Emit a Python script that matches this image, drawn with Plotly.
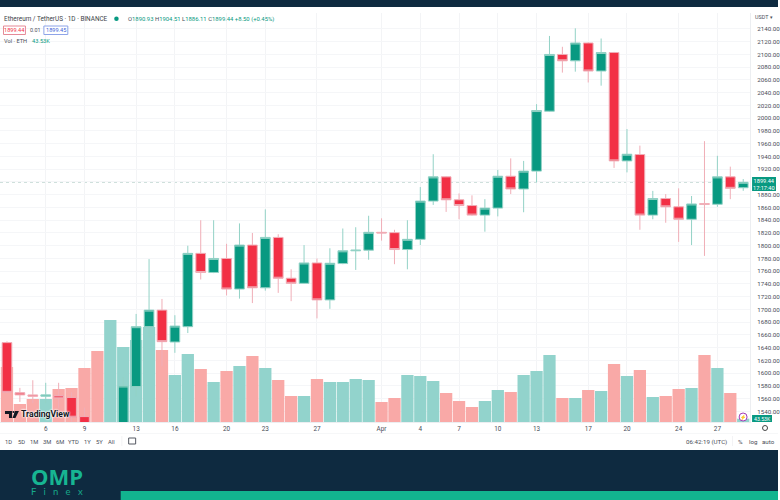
import pandas as pd
import plotly.graph_objects as go

W, H = 780, 500

dates = pd.date_range("2023-03-03", periods=58)

opens = [1648, 1569.5, 1566, 1564, 1565, 1562, 1532, 1490, 1470, 1500,
         1579, 1673, 1699, 1649, 1673, 1788, 1758, 1780, 1732, 1801,
         1734, 1813, 1749, 1741, 1773, 1715, 1772, 1792, 1793, 1821,
         1820.5, 1794, 1810, 1870, 1908, 1872, 1863, 1848, 1859, 1909,
         1889, 1917, 2011, 2100, 2090, 2118, 2074, 2103, 1933, 1943,
         1848, 1874, 1861, 1841.5, 1866, 1865, 1908, 1890.93]
highs = [1650, 1577, 1589, 1585, 1585, 1570, 1546, 1510, 1515, 1594,
         1693, 1779, 1716.5, 1691, 1800, 1840, 1840, 1803, 1835, 1820,
         1857, 1818, 1763, 1801, 1780, 1796, 1827, 1829, 1847, 1843,
         1825, 1840, 1892, 1943.5, 1909, 1882, 1879, 1873, 1919, 1937,
         1933, 2022, 2129, 2112, 2141, 2119, 2125, 2104, 1983, 1957,
         1886, 1881, 1890, 1878, 1964, 1941, 1924, 1904.51]
lows = [1569, 1555, 1553, 1553, 1545, 1524, 1480, 1450, 1460, 1490,
        1564, 1656, 1611, 1632, 1663, 1747, 1757, 1722, 1717, 1710,
        1729.5, 1726, 1713, 1740, 1686, 1701, 1771, 1762, 1778, 1808,
        1771, 1763, 1801, 1864, 1853, 1841.5, 1847, 1822, 1846, 1881,
        1852.5, 1899, 2010, 2071.5, 2073, 2056, 2051, 1922, 1915, 1825,
        1841.5, 1836, 1806, 1801, 1784, 1861, 1873, 1886.11]
closes = [1570, 1566, 1564, 1566, 1561, 1531, 1490, 1470, 1500, 1580,
          1673, 1699, 1649.5, 1674, 1788, 1758, 1780, 1732, 1801, 1734,
          1813, 1749, 1741, 1773, 1715, 1772.5, 1792, 1793, 1821, 1820,
          1794, 1810, 1870, 1908, 1872, 1863, 1848, 1859, 1909, 1889,
          1917, 2012, 2100, 2090, 2118, 2074, 2103, 1933, 1943.5, 1848,
          1874, 1861, 1841.5, 1865.5, 1865, 1908, 1890, 1899.44]

# volume in thousands of ETH
volumes = [715, 234, 299, 299, 429, 442, 702, 923, 1326, 975,
           1066, 1235, 936, 611, 884, 689, 520, 663, 728, 858,
           702, 546, 338, 338, 559, 520, 520, 559, 546, 260,
           312, 611, 598, 533, 377, 273, 195, 273, 416, 390,
           611, 663, 871, 312, 312, 416, 403, 754, 598, 676,
           325, 338, 429, 442, 871, 702, 377, 43.53]

price_ticks = list(range(1540, 2141, 20))
time_tick_dates = ["2023-03-06", "2023-03-09", "2023-03-13", "2023-03-16", "2023-03-20",
                   "2023-03-23", "2023-03-27", "2023-04-01", "2023-04-04", "2023-04-07",
                   "2023-04-10", "2023-04-13", "2023-04-17", "2023-04-20", "2023-04-24",
                   "2023-04-27"]
time_tick_text = ["6", "9", "13", "16", "20", "23", "27", "Apr", "4", "7", "10", "13", "17",
                  "20", "24", "27"]
range_buttons = [("1D", 9), ("5D", 22), ("1M", 34), ("3M", 47), ("6M", 60), ("YTD", 74),
                 ("1Y", 88), ("5Y", 100), ("All", 112)]

UP = "#089981"
DOWN = "#f23045"
UP_WICK = "#93d2c6"
DOWN_WICK = "#f0aeb7"
UP_VOL = "#92d3cc"
DOWN_VOL = "#f9a9a7"
NAVY = "#0e2a40"
TEXT = "#4a4e59"
FONT = "Roboto"

vol_colors = [UP_VOL if c >= o else DOWN_VOL for o, c in zip(opens, closes)]
# the 1900 label sits under the last price tag
price_tick_text = ["" if v == 1900 else f"{v:.2f}" for v in price_ticks]


def px(x):
    return x / W


def py(y):
    return 1 - y / H


def label(x, y, text, size=6.5, color=TEXT, anchor="left", family=FONT, shadow=None, **kw):
    font = dict(family=family, size=size, color=color)
    if shadow:
        font["shadow"] = shadow
    return dict(xref="paper", yref="paper", x=px(x), y=py(y), text=text, showarrow=False,
                xanchor=anchor, yanchor="middle", font=font, borderpad=0, **kw)


def rect(x0, y0, x1, y1, fill, line=None, kind="rect", width=1):
    return dict(type=kind, xref="paper", yref="paper", x0=px(x0), y0=py(y0), x1=px(x1), y1=py(y1),
                fillcolor=fill, line=dict(color=line or fill, width=width if line else 0), layer="above")


def poly(points, fill):
    path = "M" + " L".join(f"{px(x):.5f},{py(y):.5f}" for x, y in points) + " Z"
    return dict(type="path", xref="paper", yref="paper", path=path, fillcolor=fill, line=dict(width=0), layer="above")


fig = go.Figure()
fig.add_trace(go.Bar(x=dates, y=volumes, marker=dict(color=vol_colors, line=dict(width=0)),
                     xaxis="x", yaxis="y", showlegend=False))
fig.add_trace(go.Candlestick(x=dates, open=opens, high=highs, low=lows, close=closes,
                             increasing=dict(fillcolor=UP, line=dict(color=UP_WICK, width=1)),
                             decreasing=dict(fillcolor=DOWN, line=dict(color=DOWN_WICK, width=1)),
                             whiskerwidth=0, xaxis="x", yaxis="y2", showlegend=False))

day = pd.Timedelta(days=1)
x_range = [dates[0] - 0.54 * day, dates[0] + 57.53 * day]

shapes = [
    rect(0, 0, W, 7, NAVY),
    rect(0, 450, W, 500, NAVY),
    rect(121, 491, W, 500, "#12b48f"),
    rect(0, 433, W, 433.6, "#eeeff2"),
    rect(122, 436, 122.5, 446, "#e6e7ea"),
    rect(734, 436, 734.5, 446, "#e6e7ea"),
    rect(129, 438, 136, 444, "#ffffff", "#555962"),
    rect(3.5, 26, 25.5, 34.5, "#ffffff", "#e58a97"),
    rect(44, 26, 68, 34.5, "#ffffff", "#8ea4e8"),
    rect(114.5, 16.5, 119, 21, UP, kind="circle"),
    rect(754, 177, 778, 191, UP),
    rect(754, 415, 774, 422, UP),
    rect(741, 413, 749, 421, "#ffffff", "#a23bb5", kind="circle"),
    rect(764.5, 425.5, 769.5, 430.5, "#ffffff", "#444", kind="circle"),
    # TradingView mark
    poly([(5, 411), (12, 411), (12, 418), (9, 418), (9, 414), (5, 414)], "#131722"),
    poly([(15, 411), (19, 411), (15.5, 418), (12.5, 418)], "#131722"),
    dict(type="circle", xref="paper", yref="paper", x0=px(12.5), y0=py(411), x1=px(14.5), y1=py(413),
         fillcolor="#131722", line=dict(width=0), layer="above"),
    # last price line
    dict(type="line", xref="paper", yref="y2", x0=0, x1=px(752), y0=closes[-1], y1=closes[-1],
         line=dict(color="#c4d9d4", width=1, dash="dot"), layer="below"),
]

ohlc = ("<span style='color:#4a4e59'>O</span>1890.93 <span style='color:#4a4e59'>H</span>1904.51 "
        "<span style='color:#4a4e59'>L</span>1886.11 <span style='color:#4a4e59'>C</span>1899.44 +8.50 (+0.45%)")
gap = "\u00a0\u00a0\u00a0"

annotations = [
    label(3.5, 19, "Ethereum / TetherUS · 1D · BINANCE", size=6.4, color="#3c3f48"),
    label(127, 19, ohlc, size=5.9, color=UP),
    label(14.5, 30.3, "1899.44", size=5.6, color=DOWN, anchor="center"),
    label(35.5, 30.3, "0.01", size=5.4, anchor="center"),
    label(56, 30.3, "1899.45", size=5.6, color="#3e62d8", anchor="center"),
    label(3.5, 41.3, "Vol · ETH", size=5.7),
    label(31, 41.3, "43.53K", size=5.7, color=UP),
    label(766, 16.5, "USDT ▾", size=5.4, anchor="center"),
    label(766, 184, "1899.44<br>17:17:40", size=5.6, color="#ffffff", anchor="center"),
    label(764, 418.6, "43.53K", size=5.2, color="#ffffff", anchor="center"),
    label(745, 417, "⚡", size=5, color="#a23bb5", anchor="center"),
    label(20, 413.5, "<b>TradingView</b>", size=8.6, color="#131722",
          shadow="0 0 2px #fff, 0 0 2px #fff, 0 0 2px #fff"),
    label(708, 441.6, "06:42:19 (UTC)", size=6.2, anchor="center"),
    label(742, 441.6, "%", size=6.2, anchor="center"),
    label(755, 441.6, "log", size=6.2, anchor="center"),
    label(770, 441.6, "auto", size=6.2, anchor="center"),
    label(57, 476, "<b>OMP</b>", size=22, color="#17b592", anchor="center", family="Open Sans"),
    label(57, 491.5, gap.join("Finex"), size=9.5, color="#17a98a", anchor="center", family="Lato"),
]
for name, x in range_buttons:
    annotations.append(label(x, 441.6, name, size=5.8, anchor="center"))

fig.update_layout(
    width=W, height=H,
    margin=dict(l=0, r=0, t=0, b=0),
    paper_bgcolor="#ffffff",
    plot_bgcolor="#ffffff",
    bargap=0.05,
    boxgap=0.25,
    boxgroupgap=0,
    dragmode=False,
    font=dict(family=FONT, size=6.4, color=TEXT),
    shapes=shapes,
    annotations=annotations,
    xaxis=dict(domain=[0, px(752)], range=x_range, rangeslider=dict(visible=False),
               tickmode="array", tickvals=time_tick_dates, ticktext=time_tick_text,
               showgrid=True, gridcolor="#f3f4f6", gridwidth=1, ticks="", ticklen=0,
               tickfont=dict(size=6.4, color=TEXT), showline=True, linecolor="#eceef1", zeroline=False),
    yaxis=dict(domain=[py(422), py(13)], range=[0, 5317], showgrid=False, showticklabels=False,
               ticks="", zeroline=False),
    yaxis2=dict(overlaying="y", side="right", anchor="x", range=[1523.5, 2165],
                tickmode="array", tickvals=price_ticks, ticktext=price_tick_text,
                showgrid=True, gridcolor="#f5f6f8", gridwidth=1, ticks="", ticklabelstandoff=5,
                tickfont=dict(size=6.2, color=TEXT), showline=True, linecolor="#eceef1", zeroline=False),
)

fig.write_html("out.html", config=dict(displayModeBar=False),
               post_script="document.body.style.margin='0';document.documentElement.style.overflow='hidden';")
